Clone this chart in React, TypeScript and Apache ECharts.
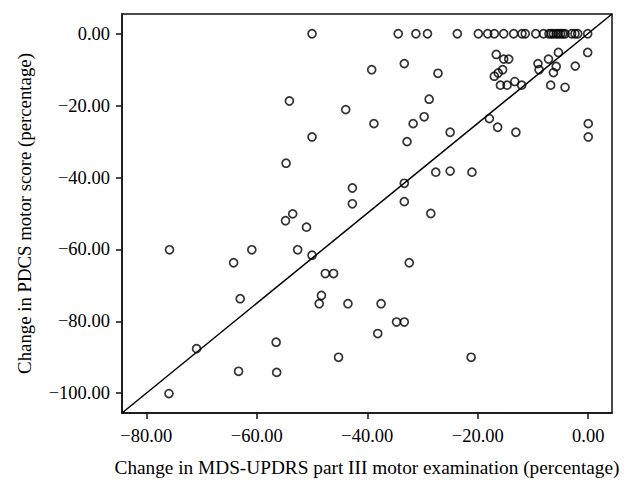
import React, { useEffect, useRef } from "react";
import * as echarts from "echarts";

const xTicks = [-80, -60, -40, -20, 0];
const yTicks = [-100, -80, -60, -40, -20, 0];
const xRange = [-84.4, 4.3];
const yRange = [-105.5, 5.5];

const zeroRowX = [-50, -34.4, -31.2, -29.1, -23.7, -19.9, -18.2, -17.0, -15.3, -13.5, -12.0, -11.4, -9.5, -8.1, -7.1, -6.7, -6.3, -5.8, -5.4, -5.0, -4.6, -4.2, -3.0, -2.4, -1.9, -0.1];

const otherPoints: [number, number][] = [
  [-39.2, -10.0], [-54.1, -18.7], [-43.9, -21.1], [-50.0, -28.7], [-54.7, -36.0],
  [-42.7, -42.9], [-42.7, -47.3], [-16.65, -5.75], [-15.3, -7.05], [-14.4, -7.05],
  [-33.3, -8.3], [-27.2, -11.0], [-15.5, -10.0], [-16.3, -10.9], [-17.0, -11.8],
  [-15.9, -14.3], [-14.7, -14.3], [-13.3, -13.3], [-12.05, -14.3], [-9.1, -8.3],
  [-8.9, -10.0], [-7.2, -7.05], [-5.4, -5.2], [-5.8, -9.1], [-6.3, -10.8],
  [-6.8, -14.3], [-4.2, -14.9], [-2.35, -9.0], [-0.1, -5.2], [-28.8, -18.2],
  [-29.7, -23.1], [-38.8, -25.0], [-31.7, -25.0], [-32.8, -30.0], [-25.0, -27.4],
  [-17.9, -23.6], [-16.4, -26.0], [-13.1, -27.4], [0, -25.0], [0, -28.7],
  [-27.6, -38.5], [-25.0, -38.2], [-21.05, -38.5], [-33.3, -41.6], [-33.3, -46.7],
  [-53.5, -50.1], [-54.8, -52.0], [-51.0, -53.8], [-75.8, -60.1], [-60.9, -60.1],
  [-52.6, -60.1], [-50.0, -61.6], [-64.2, -63.7], [-47.6, -66.7], [-46.1, -66.7],
  [-63.0, -73.7], [-48.3, -72.8], [-48.7, -75.1], [-43.5, -75.1], [-70.9, -87.6],
  [-56.5, -85.8], [-45.2, -90.0], [-63.3, -93.9], [-56.4, -94.2], [-75.9, -100.1],
  [-28.5, -50.0], [-32.4, -63.7], [-37.5, -75.1], [-34.7, -80.2], [-33.3, -80.2],
  [-38.1, -83.4], [-21.2, -90.0],
];

const refLine: [number, number][] = [
  [xRange[0], yRange[0]],
  [xRange[1], yRange[1]],
];

const fmt = (v: number) => (v < 0 ? "\u2212" + Math.abs(v).toFixed(2) : v.toFixed(2));
const FONT = "Liberation Serif";

export default function App() {
  const ref = useRef<HTMLDivElement>(null);
  useEffect(() => {
    if (!ref.current) return;
    const chart = echarts.init(ref.current, undefined, { renderer: "svg" });
    const points = [
      ...zeroRowX.map((x) => [x, 0]),
      ...otherPoints,
    ];
    chart.setOption({
      animation: false,
      backgroundColor: "#fff",
      grid: {
        left: 122, right: 22, top: 14, bottom: 80,
        show: true, borderColor: "#111", borderWidth: 1.5, backgroundColor: "transparent",
      },
      xAxis: {
        type: "value",
        min: xRange[0], max: xRange[1],
        name: "Change in MDS-UPDRS part III motor examination (percentage)",
        nameLocation: "middle", nameGap: 45,
        nameTextStyle: { fontFamily: FONT, fontSize: 19.3, color: "#000" },
        axisLine: { show: true, onZero: false, lineStyle: { color: "#111", width: 1.5 } },
        axisTick: { show: true, length: 6, customValues: xTicks, lineStyle: { color: "#111", width: 1.5 } },
        axisLabel: { customValues: xTicks, formatter: fmt, fontFamily: FONT, fontSize: 18.5, color: "#000", margin: 13 },
        splitLine: { show: false },
      },
      yAxis: {
        type: "value",
        min: yRange[0], max: yRange[1],
        name: "Change in PDCS motor score (percentage)",
        nameLocation: "middle", nameGap: 88, nameRotate: 90,
        nameTextStyle: { fontFamily: FONT, fontSize: 18.8, color: "#000" },
        axisLine: { show: true, onZero: false, lineStyle: { color: "#111", width: 1.5 } },
        axisTick: { show: true, length: 6, customValues: yTicks, lineStyle: { color: "#111", width: 1.5 } },
        axisLabel: { customValues: yTicks, formatter: fmt, fontFamily: FONT, fontSize: 18.5, color: "#000", margin: 12 },
        splitLine: { show: false },
      },
      series: [
        {
          type: "line",
          data: refLine,
          symbol: "none",
          lineStyle: { color: "#000", width: 1.5 },
          z: 1,
        },
        {
          type: "scatter",
          data: points,
          symbol: "circle",
          symbolSize: 8,
          itemStyle: { color: "rgba(0,0,0,0)", borderColor: "#000", borderWidth: 1.7 },
          z: 2,
        },
      ],
    });
    return () => chart.dispose();
  }, []);
  return <div ref={ref} style={{ width: 634, height: 493, position: "absolute", left: 0, top: 0 }} />;
}
